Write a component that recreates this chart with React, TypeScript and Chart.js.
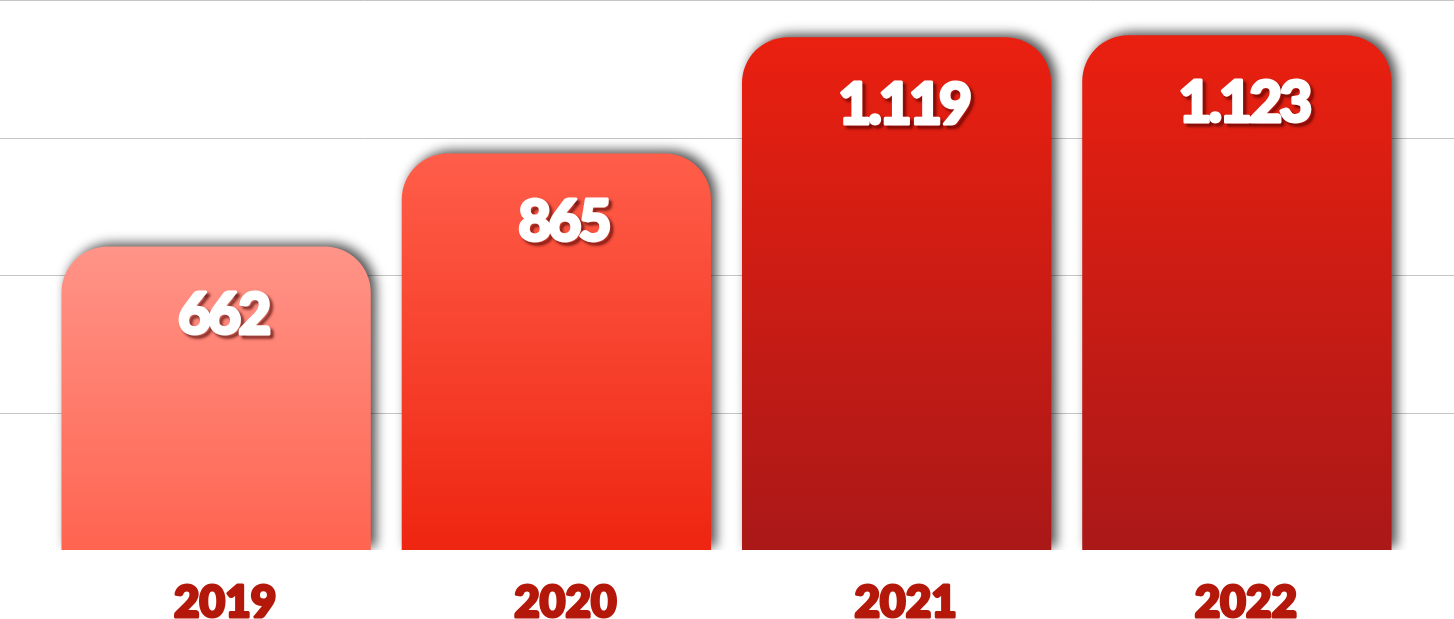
import React, { useEffect, useRef } from "react";
import { Chart, registerables } from "chart.js";

Chart.register(...registerables);

const categories = ["2019", "2020", "2021", "2022"];
const values = [662, 865, 1119, 1123];
const valueLabels = ["662", "865", "1.119", "1.123"];
const gradientTops = ["#ff9488", "#ff5e4a", "#ea2010", "#ea2010"];
const gradientBottoms = ["#ff6450", "#ee2510", "#aa1818", "#aa1818"];
const yMax = 1200;
const yStep = 300;

const FONT = "Lato, 'Open Sans', sans-serif";

const gridPlugin = {
  id: "fullGrid",
  beforeDatasetsDraw(chart: any) {
    const { ctx, scales } = chart;
    const y = scales.y;
    ctx.save();
    ctx.strokeStyle = "#c4c4c4";
    ctx.lineWidth = 1;
    for (let v = yStep; v <= yMax; v += yStep) {
      const py = Math.round(y.getPixelForValue(v)) + 0.5;
      ctx.beginPath();
      ctx.moveTo(0, py);
      ctx.lineTo(chart.width, py);
      ctx.stroke();
    }
    ctx.restore();
  },
};

const shadowPlugin = {
  id: "barShadow",
  beforeDatasetDraw(chart: any) {
    const ctx = chart.ctx;
    ctx.save();
    ctx.shadowColor = "rgba(0,0,0,0.7)";
    ctx.shadowBlur = 12;
    ctx.shadowOffsetX = 5;
    ctx.shadowOffsetY = -3;
  },
  afterDatasetDraw(chart: any) {
    chart.ctx.restore();
  },
};

const labelPlugin = {
  id: "valueLabels",
  afterDatasetsDraw(chart: any) {
    const ctx = chart.ctx;
    const meta = chart.getDatasetMeta(0);
    const xs = chart.scales.x;
    ctx.save();
    ctx.textAlign = "center";
    ctx.textBaseline = "alphabetic";
    ctx.lineJoin = "round";

    // value labels inside bars
    ctx.font = `900 57px ${FONT}`;
    (ctx as any).letterSpacing = "-3px";
    ctx.fillStyle = "#ffffff";
    ctx.strokeStyle = "#ffffff";
    ctx.lineWidth = 3;
    meta.data.forEach((bar: any, i: number) => {
      const x = bar.x + 7;
      const y = bar.y + 87;
      ctx.save();
      ctx.shadowColor = "rgba(70,0,0,0.8)";
      ctx.shadowBlur = 3;
      ctx.shadowOffsetX = 3;
      ctx.shadowOffsetY = 3;
      ctx.strokeText(valueLabels[i], x, y);
      ctx.restore();
      ctx.fillText(valueLabels[i], x, y);
    });

    // category labels below bars
    (ctx as any).letterSpacing = "0px";
    ctx.font = `900 44px ${FONT}`;
    ctx.fillStyle = "#b3180a";
    ctx.strokeStyle = "#b3180a";
    ctx.lineWidth = 3;
    chart.data.labels.forEach((lab: string, i: number) => {
      const x = xs.getPixelForValue(i) + 9;
      ctx.strokeText(lab, x, 617);
      ctx.fillText(lab, x, 617);
    });
    ctx.restore();
  },
};

export default function App() {
  const ref = useRef<HTMLCanvasElement>(null);
  useEffect(() => {
    if (!ref.current) return;
    const chart = new Chart(ref.current, {
      type: "bar",
      data: {
        labels: categories,
        datasets: [
          {
            data: values,
            backgroundColor: (c: any) => {
              const ch = c.chart;
              const ys = ch.scales?.y;
              const i = c.dataIndex;
              if (!ch.chartArea || !ys || i === undefined) return gradientTops[0];
              const top = ys.getPixelForValue(values[i]);
              const bottom = ys.getPixelForValue(0);
              if (!isFinite(top) || !isFinite(bottom)) return gradientTops[i];
              const g = ch.ctx.createLinearGradient(0, top, 0, bottom);
              g.addColorStop(0, gradientTops[i]);
              g.addColorStop(1, gradientBottoms[i]);
              return g;
            },
            borderWidth: 0,
            borderSkipped: "bottom",
            borderRadius: { topLeft: 46, topRight: 46, bottomLeft: 0, bottomRight: 0 },
            categoryPercentage: 1,
            barPercentage: 0.909,
          },
        ],
      },
      options: {
        responsive: false,
        animation: false,
        layout: { padding: { left: 46, right: 47, top: 0, bottom: 69 } },
        plugins: { legend: { display: false }, tooltip: { enabled: false } },
        scales: {
          y: { display: false, min: 0, max: yMax, ticks: { stepSize: yStep } },
          x: { display: false },
        },
      },
      plugins: [gridPlugin, shadowPlugin, labelPlugin],
    });
    return () => chart.destroy();
  }, []);
  return (
    <div style={{ position: "fixed", left: 0, top: 0, width: 1454, height: 619, background: "#fff" }}>
      <canvas ref={ref} width={1454} height={619} style={{ display: "block" }} />
    </div>
  );
}
